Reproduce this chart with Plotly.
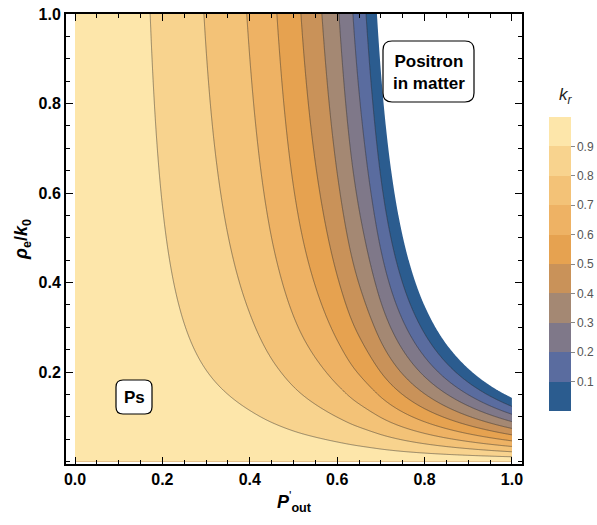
import numpy as np
import plotly.graph_objects as go

# ---- values ------------------------------------------------------------
# contour levels of k_r
levels = [0.9, 0.8, 0.7, 0.6, 0.5, 0.4, 0.3, 0.2, 0.1, 0.0]
# P'_out at which each level crosses rho_e/k0 = 1.0
x_cross_top = [0.172, 0.295, 0.393, 0.462, 0.517, 0.565, 0.604, 0.636, 0.666, 0.691]
# P'_out at which each level crosses rho_e/k0 = 0.4
x_cross_mid = [0.222, 0.371, 0.474, 0.549, 0.600, 0.652, 0.693, 0.721, 0.748, 0.771]
# rho_e/k0 at which k_r reaches 0 for P'_out = 1
y_zero_right = 0.142
# band colours of k_r, from 0-0.1 up to 0.9-1.0
band_colors = ["#2B5C8F", "#5A6C9F", "#7F7889", "#A48873", "#C99259",
               "#E6A250", "#EEB264", "#F3C277", "#F8D38E", "#FDE6AA"]
x_ticks = [0.0, 0.2, 0.4, 0.6, 0.8, 1.0]
y_ticks = [0.2, 0.4, 0.6, 0.8, 1.0]
cbar_ticks = [0.1, 0.2, 0.3, 0.4, 0.5, 0.6, 0.7, 0.8, 0.9]


def pchip(xk, yk, xq):
    """Monotone piecewise-cubic Hermite curve through (xk, yk)."""
    xk = np.asarray(xk, float)
    yk = np.asarray(yk, float)
    hk = np.diff(xk)
    dk = np.diff(yk) / hk
    m = np.zeros_like(yk)
    for k in range(1, len(xk) - 1):
        if dk[k - 1] * dk[k] > 0:
            w1 = 2 * hk[k] + hk[k - 1]
            w2 = hk[k] + 2 * hk[k - 1]
            m[k] = (w1 + w2) / (w1 / dk[k - 1] + w2 / dk[k])
    m[0] = ((2 * hk[0] + hk[1]) * dk[0] - hk[0] * dk[1]) / (hk[0] + hk[1])
    m[-1] = ((2 * hk[-1] + hk[-2]) * dk[-1] - hk[-1] * dk[-2]) / (hk[-1] + hk[-2])
    if m[0] * dk[0] <= 0:
        m[0] = 0.0
    if m[-1] * dk[-1] <= 0:
        m[-1] = 0.0
    idx = np.clip(np.searchsorted(xk, xq) - 1, 0, len(hk) - 1)
    t = (xq - xk[idx]) / hk[idx]
    h00 = 2 * t**3 - 3 * t**2 + 1
    h10 = t**3 - 2 * t**2 + t
    h01 = -2 * t**3 + 3 * t**2
    h11 = t**3 - t**2
    return (h00 * yk[idx] + h10 * hk[idx] * m[idx]
            + h01 * yk[idx + 1] + h11 * hk[idx] * m[idx + 1])


# ---- surface k_r(P'_out, rho_e/k0) = 1 - G(P) * h(rho) / h(1) ----------
lv = np.array(levels)
xt = np.array(x_cross_top)
xm = np.array(x_cross_mid)
g_top = 1.0 - lv                      # G at the rho = 1 crossings

# density dependence h(rho) = rho / (rho + b); b from the rho = 0.4 row
use = xm <= xt.max()
r = np.mean(g_top[use] / np.interp(xm[use], xt, g_top))
b = 0.4 * (1.0 - r) / (r - 0.4)
h = lambda rho: rho / (rho + b)
g_right = h(1.0) / h(y_zero_right)    # G at P'_out = 1

xs_knots = np.concatenate([[0.0], xt, [1.0]])
gs_knots = np.concatenate([[0.0], g_top, [g_right]])

px = np.linspace(0.0, 1.0, 601)
py = np.linspace(0.0, 1.0, 601)
G = pchip(xs_knots, gs_knots, px)
K = 1.0 - np.outer(h(py) / h(1.0), G)
K = np.maximum(K, -0.5)

# colour map: below 0 is left blank (white), then one colour per band
nb = len(band_colors)
fill_scale = [[0.0, "#FFFFFF"]]
for i, c in enumerate(band_colors):
    fill_scale.append([(i + 1) / nb, c])

fig = go.Figure()

# filled bands
fig.add_trace(go.Contour(
    x=px, y=py, z=K,
    contours=dict(start=0.0, end=0.9, size=0.1, coloring="fill", showlines=False),
    colorscale=fill_scale, showscale=False, line=dict(width=0),
    hoverinfo="skip",
))
# contour lines 0.1 ... 0.9
fig.add_trace(go.Contour(
    x=px, y=py, z=K,
    contours=dict(start=0.1, end=0.9, size=0.1, coloring="none"),
    line=dict(color="rgba(45,45,45,0.6)", width=0.8),
    showscale=False, hoverinfo="skip",
))

# colour bar
cb_scale = []
for i, c in enumerate(band_colors):
    cb_scale.append([i / nb, c])
    cb_scale.append([(i + 1) / nb, c])

W, H = 597, 525
ml, mr, mt, mb = 66, 75, 14, 61
pw, ph = W - ml - mr, H - mt - mb


def pxx(v):
    return (v - ml) / pw


def pyy(v):
    return (H - mb - v) / ph


cb_left, cb_right, cb_top, cb_bot = 549, 571, 117, 411

fig.add_trace(go.Scatter(
    x=[5], y=[5], mode="markers", hoverinfo="skip", showlegend=False,
    marker=dict(
        color=[0.5], colorscale=cb_scale, cmin=0, cmax=1, showscale=True,
        colorbar=dict(
            x=pxx(cb_left), xanchor="left", xpad=0,
            y=pyy(cb_top), yanchor="top", ypad=0,
            len=cb_bot - cb_top, lenmode="pixels",
            thickness=cb_right - cb_left, thicknessmode="pixels",
            outlinewidth=0,
            tickvals=cbar_ticks, ticktext=[f"{v:.1f}" for v in cbar_ticks],
            ticks="outside", ticklen=4, tickcolor="#888888", tickwidth=1,
            tickfont=dict(family="Liberation Sans", size=12, color="#555555"),
        ),
    ),
))

shapes = []
# band separators on the colour bar
for v in cbar_ticks[1:]:
    yy = pyy(cb_bot) + v * (pyy(cb_top) - pyy(cb_bot))
    shapes.append(dict(type="line", xref="paper", yref="paper",
                       x0=pxx(cb_left), x1=pxx(cb_right), y0=yy, y1=yy,
                       line=dict(color="rgba(60,45,30,0.7)", width=1)))


def rounded_box(x0, y0, x1, y1, rad):
    """Rounded rectangle path in paper units from pixel corners."""
    X0, X1 = pxx(x0), pxx(x1)
    Y0, Y1 = pyy(y0), pyy(y1)          # Y0 top, Y1 bottom
    rx, ry = rad / pw, rad / ph
    return (f"M{X0 + rx},{Y0} L{X1 - rx},{Y0} Q{X1},{Y0} {X1},{Y0 - ry} "
            f"L{X1},{Y1 + ry} Q{X1},{Y1} {X1 - rx},{Y1} "
            f"L{X0 + rx},{Y1} Q{X0},{Y1} {X0},{Y1 + ry} "
            f"L{X0},{Y0 - ry} Q{X0},{Y0} {X0 + rx},{Y0} Z")


shapes.append(dict(type="path", xref="paper", yref="paper",
                   path=rounded_box(383, 41, 474, 102, 9),
                   fillcolor="white", line=dict(color="black", width=1.2), layer="above"))
shapes.append(dict(type="path", xref="paper", yref="paper",
                   path=rounded_box(116, 380, 152, 414, 7),
                   fillcolor="white", line=dict(color="black", width=1.2), layer="above"))

annotations = [
    dict(text="<b>Positron<br>in matter</b>", x=pxx(428.5), y=pyy(72), xref="paper", yref="paper",
         showarrow=False, font=dict(family="Liberation Sans", size=17, color="black"),
         xanchor="center", yanchor="middle"),
    dict(text="<b>Ps</b>", x=pxx(134), y=pyy(397), xref="paper", yref="paper",
         showarrow=False, font=dict(family="Liberation Sans", size=17, color="black"),
         xanchor="center", yanchor="middle"),
    dict(text="<i>k<sub>r</sub></i>", x=pxx(566), y=pyy(96), xref="paper", yref="paper",
         showarrow=False, font=dict(family="Liberation Sans", size=17, color="#222222"),
         xanchor="center", yanchor="middle"),
]

axis_common = dict(
    showline=True, linewidth=2, linecolor="black", mirror="ticks",
    ticks="inside", ticklen=7, tickwidth=1.3, tickcolor="black",
    minor=dict(ticks="inside", ticklen=4, dtick=0.05, tickwidth=1, tickcolor="black"),
    showgrid=False, zeroline=False,
    tickfont=dict(family="Liberation Sans", size=16, color="black", weight="bold"),
)

fig.update_layout(
    width=W, height=H,
    margin=dict(l=ml, r=mr, t=mt, b=mb, autoexpand=False),
    paper_bgcolor="white", plot_bgcolor="white",
    xaxis=dict(range=[-0.0206, 1.023], **axis_common,
               tickvals=x_ticks, ticktext=[f"{v:.1f}" for v in x_ticks],
               title=dict(text="<b><i>P</i></b><sup>'</sup><sub><b>out</b></sub>",
                          font=dict(family="Liberation Sans", size=18, color="black"),
                          standoff=8)),
    yaxis=dict(range=[-0.0056, 1.0], **axis_common,
               tickvals=y_ticks, ticktext=[f"{v:.1f}" for v in y_ticks],
               title=dict(text="<b><i>ρ</i><sub>e</sub>/<i>k</i><sub>0</sub></b>",
                          font=dict(family="Liberation Sans", size=18, color="black"),
                          standoff=6)),
    shapes=shapes, annotations=annotations, showlegend=False,
)

fig.write_html("out.html")
